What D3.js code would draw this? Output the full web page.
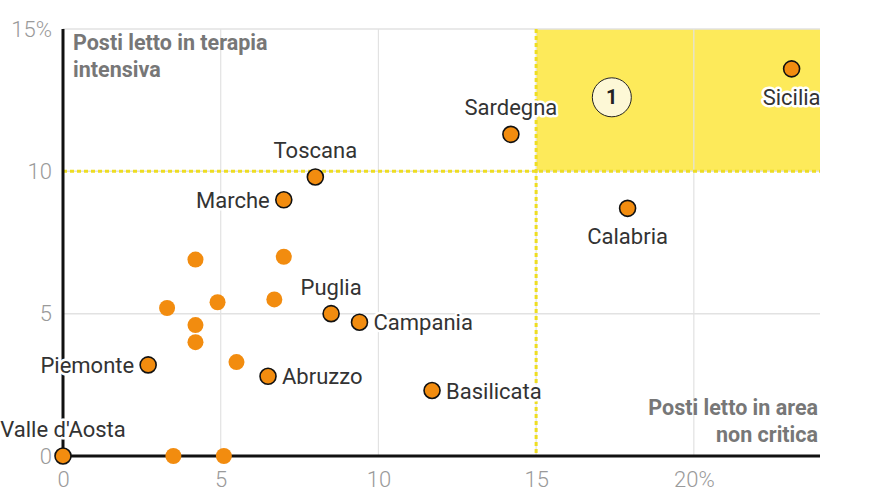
<!DOCTYPE html>
<html>
<head>
<meta charset="utf-8">
<script src="https://cdn.jsdelivr.net/npm/d3@7"></script>
<style>
  body { margin: 0; background: #fff; }
  svg { font-family: Roboto, "Noto Sans", sans-serif; display: block; }
</style>
</head>
<body>
<div id="chart"></div>
<script>
// Data: % of beds occupied by Covid patients, per region
const regions = ["Valle d'Aosta", "Piemonte", "Abruzzo", "Puglia", "Campania", "Basilicata",
  "Marche", "Toscana", "Sardegna", "Sicilia", "Calabria",
  "", "", "", "", "", "", "", "", "", ""];
const nonCritical = [0, 2.7, 6.5, 8.5, 9.4, 11.7, 7.0, 8.0, 14.2, 23.1, 17.9,
  4.2, 7.0, 3.3, 4.9, 6.7, 4.2, 4.2, 5.5, 3.5, 5.1];
const intensive = [0, 3.2, 2.8, 5.0, 4.7, 2.3, 9.0, 9.8, 11.3, 13.6, 8.7,
  6.9, 7.0, 5.2, 5.4, 5.5, 4.6, 4.0, 3.3, 0, 0];

const xTicks = [0, 5, 10, 15, 20];
const yTicks = [0, 5, 10, 15];
const threshold = { x: 15, y: 10 };

// Label placement per region
const labelPos = {
  "Valle d'Aosta": "top", "Piemonte": "left", "Abruzzo": "right", "Puglia": "top",
  "Campania": "right", "Basilicata": "right", "Marche": "left", "Toscana": "top",
  "Sardegna": "top", "Sicilia": "bottom", "Calabria": "bottom"
};

const width = 869;
const height = 500;
const margin = { top: 29, right: 49, bottom: 44, left: 63 };

const svg = d3.select("#chart")
  .append("svg")
  .attr("width", width)
  .attr("height", height);

const x = d3.scaleLinear().domain([0, 24]).range([margin.left, width - margin.right]);
const y = d3.scaleLinear().domain([0, 15]).range([height - margin.bottom, margin.top]);

// Highlighted critical area
svg.append("rect")
  .attr("x", x(threshold.x))
  .attr("y", y(15))
  .attr("width", x(24) - x(threshold.x))
  .attr("height", y(threshold.y) - y(15))
  .attr("fill", "#fdea5a");

// Grid
svg.append("g")
  .selectAll("line")
  .data(xTicks.filter(d => d > 0))
  .join("line")
  .attr("x1", d => x(d)).attr("x2", d => x(d))
  .attr("y1", y(15)).attr("y2", y(0))
  .attr("stroke", "#e2e2e2")
  .attr("stroke-width", 1.2);

svg.append("g")
  .selectAll("line")
  .data(yTicks.filter(d => d > 0))
  .join("line")
  .attr("x1", x(0)).attr("x2", x(24))
  .attr("y1", d => y(d)).attr("y2", d => y(d))
  .attr("stroke", "#e2e2e2")
  .attr("stroke-width", 1.5);

// Threshold dotted lines
svg.append("line")
  .attr("x1", x(0)).attr("x2", x(24))
  .attr("y1", y(threshold.y)).attr("y2", y(threshold.y))
  .attr("stroke", "#eedd22")
  .attr("stroke-width", 3)
  .attr("stroke-dasharray", "4,3");

svg.append("line")
  .attr("x1", x(threshold.x)).attr("x2", x(threshold.x))
  .attr("y1", y(15)).attr("y2", y(0))
  .attr("stroke", "#eedd22")
  .attr("stroke-width", 3)
  .attr("stroke-dasharray", "4,3");

// Axes
const xAxis = svg.append("g")
  .attr("transform", `translate(0,${y(0)})`)
  .call(d3.axisBottom(x).tickValues(xTicks).tickSize(0).tickPadding(15)
    .tickFormat(d => d === 20 ? "20%" : d));
const yAxis = svg.append("g")
  .attr("transform", `translate(${x(0)},0)`)
  .call(d3.axisLeft(y).tickValues(yTicks).tickSize(0).tickPadding(11)
    .tickFormat(d => d === 15 ? "15%" : d));

[xAxis, yAxis].forEach(g => {
  g.select(".domain").remove();
  g.selectAll("text")
    .attr("fill", "#9a9a9a")
    .attr("font-size", "22px")
    .attr("font-family", "Roboto, sans-serif")
    .attr("font-weight", 300);
});

svg.append("line")
  .attr("x1", x(0)).attr("x2", x(0))
  .attr("y1", y(15)).attr("y2", y(0))
  .attr("stroke", "#111").attr("stroke-width", 3);
svg.append("line")
  .attr("x1", x(0)).attr("x2", x(24))
  .attr("y1", y(0)).attr("y2", y(0))
  .attr("stroke", "#111").attr("stroke-width", 3);

// Axis titles
svg.append("text")
  .attr("y", y(15) + 21)
  .attr("fill", "#777")
  .attr("font-size", "21.5px")
  .attr("font-weight", 700)
  .selectAll("tspan")
  .data(["Posti letto in terapia", "intensiva"])
  .join("tspan")
  .attr("x", x(0) + 10)
  .attr("dy", (d, i) => i === 0 ? 0 : 27)
  .text(d => d);

svg.append("text")
  .attr("y", y(0) - 41)
  .attr("fill", "#777")
  .attr("font-size", "21.5px")
  .attr("font-weight", 700)
  .attr("text-anchor", "end")
  .selectAll("tspan")
  .data(["Posti letto in area", "non critica"])
  .join("tspan")
  .attr("x", x(24) - 2)
  .attr("dy", (d, i) => i === 0 ? 0 : 27)
  .text(d => d);

// Points
const points = regions.map((r, i) => ({ name: r, x: nonCritical[i], y: intensive[i] }));

svg.append("g")
  .selectAll("circle")
  .data(points)
  .join("circle")
  .attr("cx", d => x(d.x))
  .attr("cy", d => y(d.y))
  .attr("r", 8)
  .attr("fill", "#f28c0f")
  .attr("stroke", d => d.name ? "#111" : "none")
  .attr("stroke-width", 1.6);

// Labels
const offsets = {
  top: { dx: 0, dy: -19, anchor: "middle" },
  bottom: { dx: 0, dy: 36, anchor: "middle" },
  left: { dx: -14, dy: 8, anchor: "end" },
  right: { dx: 14, dy: 8, anchor: "start" }
};

svg.append("g")
  .selectAll("text")
  .data(points.filter(d => d.name))
  .join("text")
  .attr("x", d => x(d.x) + offsets[labelPos[d.name]].dx)
  .attr("y", d => y(d.y) + offsets[labelPos[d.name]].dy)
  .attr("text-anchor", d => offsets[labelPos[d.name]].anchor)
  .attr("font-size", "22px")
  .attr("fill", "#333")
  .attr("stroke", "#fff")
  .attr("stroke-width", 5)
  .attr("stroke-linejoin", "round")
  .attr("paint-order", "stroke")
  .text(d => d.name);

// Annotation marker
const marker = svg.append("g")
  .attr("transform", `translate(${x(17.4)},${y(12.6)})`);
marker.append("circle")
  .attr("r", 19.5)
  .attr("fill", "#fdf8d6")
  .attr("stroke", "#222")
  .attr("stroke-width", 1);
marker.append("text")
  .attr("text-anchor", "middle")
  .attr("dy", 7)
  .attr("font-size", "20px")
  .attr("font-weight", 700)
  .attr("fill", "#222")
  .text("1");
</script>
</body>
</html>
